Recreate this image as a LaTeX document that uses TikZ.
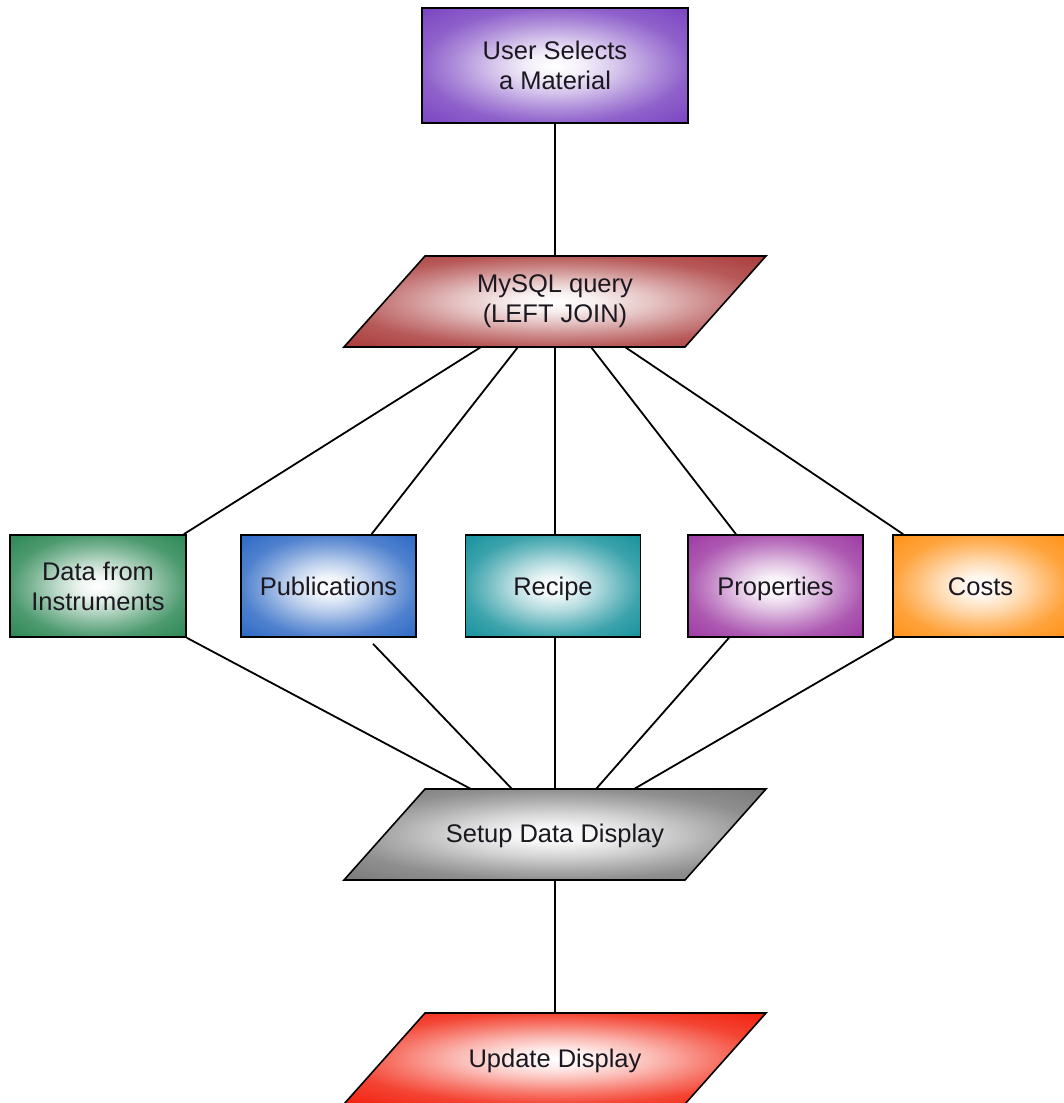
\documentclass[tikz,border=0pt]{standalone}
\usepackage{fontspec}
\setmainfont{Liberation Sans}
\definecolor{cpurple}{RGB}{125,72,195}
\definecolor{cmysql}{RGB}{172,62,62}
\definecolor{cgreen}{RGB}{48,138,88}
\definecolor{cblue}{RGB}{50,108,198}
\definecolor{cteal}{RGB}{28,148,158}
\definecolor{cprop}{RGB}{160,62,165}
\definecolor{corange}{RGB}{255,148,28}
\definecolor{cgray}{RGB}{125,125,125}
\definecolor{cred}{RGB}{242,38,18}
\definecolor{ctext}{RGB}{28,24,32}
\newcommand\mkglow[2]{\pgfdeclareradialshading{#1}{\pgfpoint{0bp}{0bp}}{%
  color(0bp)=(white); color(5bp)=(#2!8!white); color(12bp)=(#2!33!white);
  color(19bp)=(#2!63!white); color(25bp)=(#2!86!white); color(34bp)=(#2);
  color(50bp)=(#2)}}
\mkglow{gpurple}{cpurple}
\mkglow{gmysql}{cmysql}
\mkglow{ggreen}{cgreen}
\mkglow{gblue}{cblue}
\mkglow{gteal}{cteal}
\mkglow{gprop}{cprop}
\mkglow{gorange}{corange}
\mkglow{ggray}{cgray}
\mkglow{gred}{cred}
\begin{document}
\begin{tikzpicture}[x=1pt,y=-1pt,
  box/.style={draw=black, line width=1.6pt, rectangle, minimum width=175pt,
    minimum height=102pt, text=ctext,
    font=\fontsize{25.5}{30}\selectfont, align=center},
  oneline/.style={text height=23.5pt, text depth=5pt},
  para/.style={draw=black, line width=1.6pt},
  ptext/.style={text=ctext, font=\fontsize{25.5}{30}\selectfont, align=center},
  conn/.style={line width=1.8pt, draw=black}]
\useasboundingbox (0,0) rectangle (1064,1103);
\clip (0,0) rectangle (1064,1103);

% top box
\node[box, minimum width=266pt, minimum height=115pt, shading=gpurple] (user) at (555,65.5) {User Selects\\a Material};

% MySQL parallelogram
\path[para, shading=gmysql] (425,256) -- (766,256) -- (685,347) -- (344,347) -- cycle;
\coordinate (mt) at (555,256);
\coordinate (m1) at (481,347);
\coordinate (m2) at (518,347);
\coordinate (m3) at (555,347);
\coordinate (m4) at (591,347);
\coordinate (m5) at (625,347);
\node[ptext] (mysql) at (555,301) {MySQL query\\(LEFT JOIN)};

% row of boxes
\node[box, minimum width=176pt, shading=ggreen] (data) at (98,586) {Data from\\Instruments};
\node[box, oneline, shading=gblue] (pub) at (328.5,586) {Publications};
\node[box, oneline, shading=gteal] (recipe) at (553,586) {Recipe};
\node[box, oneline, shading=gprop] (prop) at (775.5,586) {Properties};
\node[box, oneline, shading=gorange] (costs) at (980.5,586) {Costs};

% Setup parallelogram
\path[para, shading=ggray] (425,789) -- (766,789) -- (685,880) -- (344,880) -- cycle;
\coordinate (s1) at (471,789);
\coordinate (s2) at (512,789);
\coordinate (s3) at (555,789);
\coordinate (s4) at (596,789);
\coordinate (s5) at (634,789);
\coordinate (sb) at (555,880);
\node[ptext, oneline] (setup) at (555,833) {Setup Data Display};

% Update parallelogram
\path[para, shading=gred] (425,1013) -- (766,1013) -- (685,1104) -- (344,1104) -- cycle;
\coordinate (ut) at (555,1013);
\node[ptext, oneline] (update) at (555,1058) {Update Display};

% connectors
\draw[conn] (user.south) -- (mt);
\draw[conn] (m1) -- ([xshift=-3pt]data.north east);
\draw[conn] (m2) -- ([xshift=43pt]pub.north);
\draw[conn] (m3) -- ([xshift=2pt]recipe.north);
\draw[conn] (m4) -- ([xshift=-39.5pt]prop.north);
\draw[conn] (m5) -- ([xshift=11pt]costs.north west);
\draw[conn] (data.south east) -- (s1);
\draw[conn] ([xshift=44.5pt,yshift=-6pt]pub.south) -- (s2);
\draw[conn] ([xshift=2pt]recipe.south) -- (s3);
\draw[conn] ([xshift=-46.5pt]prop.south) -- (s4);
\draw[conn] ([xshift=2pt]costs.south west) -- (s5);
\draw[conn] (sb) -- (ut);
\end{tikzpicture}
\end{document}
